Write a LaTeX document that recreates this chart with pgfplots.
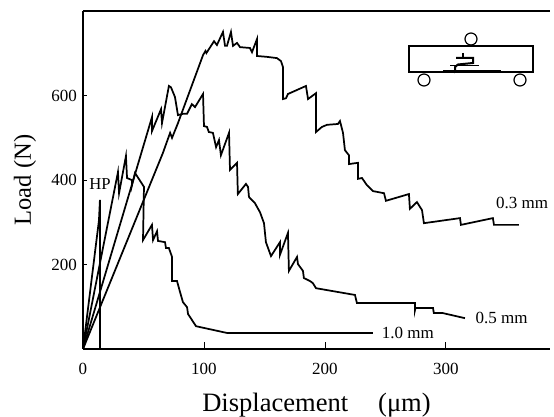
\documentclass[border=0pt]{standalone}
\usepackage{fontspec}
\setmainfont{Liberation Serif}
\usepackage{pgfplots}
\pgfplotsset{compat=1.18}
\begin{document}
\begin{tikzpicture}
\path[use as bounding box] (0,0) rectangle (415.5pt,312.75pt);
\begin{axis}[
  at={(62.25pt,51pt)}, anchor=south west,
  scale only axis, width=350.25pt, height=253.5pt,
  xmin=0, xmax=386, ymin=0, ymax=800.6,
  axis x line*=bottom, axis y line*=left,
  axis line style={-, line width=1.1pt},
  clip=false,
  xtick={0,100,200,300}, ytick={200,400,600},
  tick align=inside, major tick length=5pt,
  tick style={black, line width=0.7pt},
  ytick style={/pgfplots/major tick length=3pt},
  /pgf/number format/assume math mode=true,
  tick label style={font=\fontsize{12.75}{14}\selectfont},
  xticklabel style={yshift=-7pt},
  yticklabel style={xshift=-1pt},
  xlabel={Displacement\hspace{22.5pt}(μm)},
  ylabel={\fontsize{18.4}{21}\selectfont Load (N)},
  xlabel style={font=\fontsize{19.9}{22}\selectfont, at={(axis cs:193,-133)}, anchor=center},
  ylabel style={at={(rel axis cs:-0.124,0.5)}, anchor=center},
]
\draw[line width=1.1pt] (rel axis cs:0,1) -- (rel axis cs:1,1);
% HP
\addplot[black, line width=1.3pt] coordinates {(0,0)(13.2,305)(14,353)(14,0)};
% 1.0 mm
\addplot[black, line width=1.3pt] coordinates {
(0,0)(28.9,419)(29.8,369)(35.5,457)(36.4,405)(40.5,400)(40.5,388)(43,417)(50.4,384)(49.6,258)
(57,294)(57.9,258)(61.2,279)(62,256)(67.8,253)(68.6,239)(71,239)(73.6,218)(73.6,161)(77.7,161)
(80.2,135)(82.6,111)(86,99)(86.8,83)(93.4,54)(119,38)(239.7,38)};
% 0.5 mm
\addplot[black, line width=1.3pt] coordinates {
(0,0)(57,549)(57,516)(64.5,568)(65.3,535)(71,623)(72.7,620)(76,597)(78.5,554)(82.6,557)(86,557)
(90,580)(92.6,573)(99.2,604)(100,528)(102.5,526)(104,514)(107.4,512)(110,478)(112.4,495)(114,459)
(120.7,512)(121.5,424)(127.3,441)(128,367)(134.7,391)(136.4,384)(137.2,360)(142,346)(146.3,324)
(149.6,298)(151.2,253)(155.4,220)(162.8,253)(162.8,223)(169.4,275)(170.2,185)(176.9,218)(177.7,201)
(181.8,185)(182.6,168)(187.6,161)(190,156)(192.6,144)(224.8,128)(226.4,109)(274.4,109)(274.4,92)
(274.8,97)(289.3,97)(290,85)(297.5,85)(315.7,73)};
% 0.3 mm
\addplot[black, line width=1.3pt] coordinates {
(0,0)(66,464)(72,512)(73.6,500)(78.5,535)(99.2,696)(101.2,706)(102,701)(108.3,729)(110.7,720)
(115.7,751)(117.4,718)(119,718)(122.3,751)(124,718)(127.3,725)(129.8,715)(138,713)(139.7,703)
(143.8,734)(143.8,694)(152,692)(160.3,689)(163.6,682)(165.3,668)(165.3,592)(167.8,594)(169.4,604)
(184.3,623)(186,592)(192.6,606)(192.6,514)(197.5,526)(201.7,531)(210.7,533)(212.4,540)(214.9,512)
(216.5,471)(219.8,459)(219.8,438)(227.3,441)(227.3,403)(230.6,405)(234.7,388)(239.7,374)(248.8,369)
(250.4,351)(269.4,367)(270.2,332)(276,348)(280.2,329)(281.8,298)(311.6,310)(312.4,294)(338.8,310)
(339.7,294)(360.3,294)};
\node[font=\fontsize{12.75}{14}\selectfont] at (axis cs:363,346) {0.3 mm};
\node[font=\fontsize{12.75}{14}\selectfont] at (axis cs:346,73) {0.5 mm};
\node[font=\fontsize{12.75}{14}\selectfont] at (axis cs:268.5,38) {1.0 mm};
\node[font=\fontsize{12.5}{14}\selectfont] at (axis cs:14,391) {HP};
\end{axis}
\begin{scope}[x=.75pt,y=-.75pt,yshift=312.75pt]
\draw[line width=.9pt] (409,46) rectangle (533,72);
\draw[line width=.9pt] (471,39) circle (6);
\draw[line width=.9pt] (424,80) circle (6);
\draw[line width=.9pt] (520,80) circle (6);
\draw[line width=1.2pt] (443,70.5) -- (501,70.5);
\draw[line width=.6pt] (450,65) -- (479,65);
\draw[line width=1.5pt] (456,58) -- (473,58) -- (473,63) -- (458,64.5) -- (455,67) -- (455,72) -- (472,71);
\draw[line width=1.2pt] (463,53) -- (463,58);
\end{scope}
\end{tikzpicture}
\end{document}
